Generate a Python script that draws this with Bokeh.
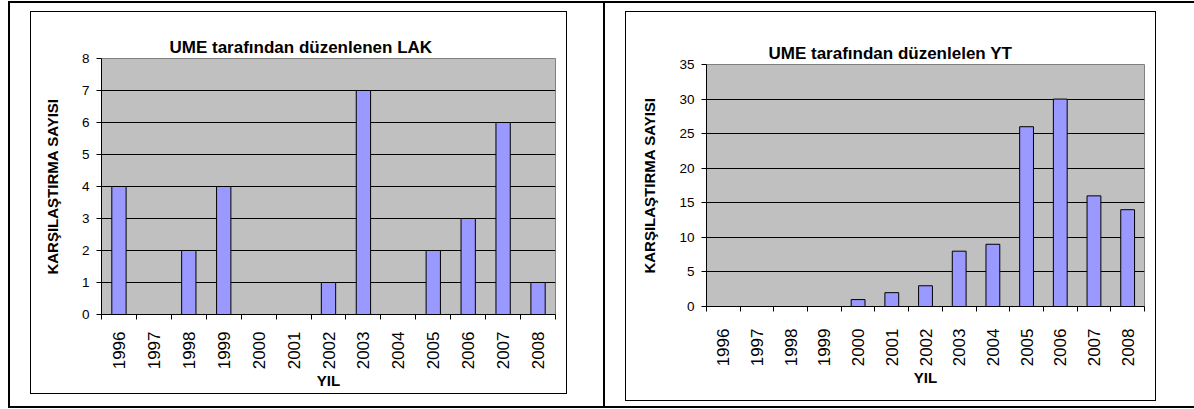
import math
from bokeh.plotting import figure
from bokeh.models import (Range1d, LinearAxis, FixedTicker, ColumnDataSource, Title)
from bokeh.layouts import row, column
from bokeh.embed import file_html
from bokeh.resources import INLINE

years = ["1996", "1997", "1998", "1999", "2000", "2001", "2002",
         "2003", "2004", "2005", "2006", "2007", "2008"]
lak_counts = [4, 0, 2, 4, 0, 0, 1, 7, 0, 2, 3, 6, 1]
yt_counts = [0, 0, 0, 0, 1, 2, 3, 8, 9, 26, 30, 16, 14]

lak_title = "UME tarafından düzenlenen LAK"
yt_title = "UME tarafından düzenlelen YT"
x_label = "YIL"
y_label = "KARŞILAŞTIRMA SAYISI"
lak_yticks = [0, 1, 2, 3, 4, 5, 6, 7, 8]
yt_yticks = [0, 5, 10, 15, 20, 25, 30, 35]

FONT = "Liberation Sans"

# category slot centres (each year occupies one unit slot) and slot boundaries
centers = [i + 0.5 for i in range(len(years))]
bounds = list(range(len(years) + 1))


def make_chart(title, values, yticks, width, height, borders,
               title_gap, title_offset, lab_standoff, axlab_standoff, margin):
    p = figure(x_range=Range1d(0, len(years)),
               y_range=Range1d(yticks[0], yticks[-1]),
               width=width, height=height,
               x_axis_location=None,
               output_backend="svg", toolbar_location=None,
               min_border_left=borders[0], min_border_right=borders[1],
               min_border_top=borders[2], min_border_bottom=borders[3])
    p.title = None
    p.margin = margin
    p.styles = {"border": "1px solid black", "box-sizing": "border-box"}
    p.background_fill_color = "#C0C0C0"
    p.border_fill_color = "white"
    p.outline_line_color = "#808080"
    p.outline_line_width = 1

    # invisible spacer between the plot area and the title
    spacer = LinearAxis(ticker=FixedTicker(ticks=[]),
                        axis_line_color=None,
                        major_tick_line_color="white",
                        major_tick_out=title_gap, major_tick_in=0,
                        minor_tick_line_color=None,
                        major_label_standoff=0, axis_label_standoff=0)
    p.add_layout(spacer, "above")

    ttl = Title(text=title, align="left", offset=title_offset,
                vertical_align="bottom", standoff=4,
                text_font=FONT, text_font_size="17px",
                text_font_style="bold", text_color="black")
    p.add_layout(ttl, "above")

    # y axis
    yax = p.yaxis[0]
    yax.ticker = FixedTicker(ticks=yticks)
    yax.axis_line_color = "black"
    yax.major_tick_line_color = "black"
    yax.major_tick_out = 5
    yax.major_tick_in = 0
    yax.minor_tick_line_color = None
    yax.major_label_text_font = FONT
    yax.major_label_text_font_size = "13.5px"
    yax.major_label_text_color = "black"
    yax.major_label_standoff = 7
    yax.axis_label = y_label
    yax.axis_label_text_font = FONT
    yax.axis_label_text_font_size = "15px"
    yax.axis_label_text_font_style = "bold"
    yax.axis_label_text_color = "black"
    yax.axis_label_standoff = 18

    p.ygrid.ticker = FixedTicker(ticks=yticks[1:-1])
    p.ygrid.grid_line_color = "black"
    p.ygrid.grid_line_width = 1
    p.xgrid.grid_line_color = None

    # x axis: labels at slot centres, tick marks at slot boundaries (Excel style)
    xax = LinearAxis(ticker=FixedTicker(ticks=centers, minor_ticks=bounds),
                     major_label_overrides={c: y for c, y in zip(centers, years)},
                     major_tick_line_color=None,
                     major_tick_out=0, major_tick_in=0,
                     minor_tick_line_color="black",
                     minor_tick_out=5, minor_tick_in=0,
                     axis_line_color="black",
                     major_label_orientation=math.pi / 2,
                     major_label_text_font=FONT,
                     major_label_text_font_size="17px",
                     major_label_text_color="black",
                     major_label_standoff=lab_standoff,
                     axis_label=x_label,
                     axis_label_text_font=FONT,
                     axis_label_text_font_size="15px",
                     axis_label_text_font_style="bold",
                     axis_label_text_color="black",
                     axis_label_standoff=axlab_standoff)
    p.add_layout(xax, "below")

    src = ColumnDataSource(dict(x=centers, top=values))
    p.vbar(x="x", top="top", width=0.41, source=src,
           fill_color="#9999FF", line_color="black", line_width=1)
    return p


p1 = make_chart(lak_title, lak_counts, lak_yticks, 537, 383,
                (70, 13, 46, 81), 12, 68, 12, 0, (8, 36, 12, 20))
p2 = make_chart(yt_title, yt_counts, yt_yticks, 531, 390,
                (80, 13, 52, 96), 24, 62, 17, 0, (8, 38, 5, 20))

c1 = column(p1, styles={"border": "2px solid black", "box-sizing": "content-box"})
c2 = column(p2, styles={"border-top": "2px solid black",
                        "border-bottom": "2px solid black"})
layout = row(c1, c2, margin=(1, 0, 0, 8), spacing=0)

html = file_html(layout, INLINE)
with open("out.html", "w") as f:
    f.write(html)
